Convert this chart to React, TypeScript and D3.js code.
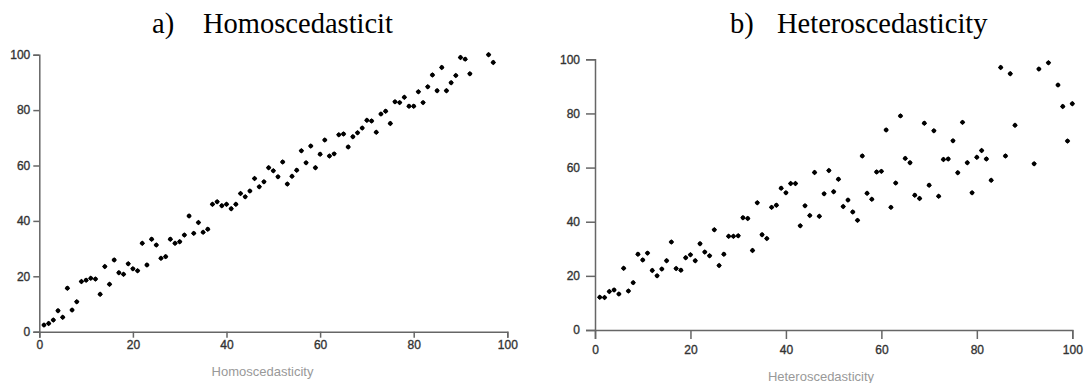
import React, { useEffect, useRef } from "react";
import * as d3 from "d3";

// Panel a: constant spread around the trend
const homX = [
  1, 2, 3, 4, 5, 6, 7, 8, 9, 10, 11, 12, 13, 14, 15, 16, 17, 18, 19, 20,
  21, 22, 23, 24, 25, 26, 27, 28, 29, 30, 31, 32, 33, 34, 35, 36, 37, 38, 39, 40,
  41, 42, 43, 44, 45, 46, 47, 48, 49, 50, 51, 52, 53, 54, 55, 56, 57, 58, 59, 60,
  61, 62, 63, 64, 65, 66, 67, 68, 69, 70, 71, 72, 73, 74, 75, 76, 77, 78, 79, 80,
  81, 82, 83, 84, 85, 86, 87, 88, 89, 90, 91, 92, 96, 97,
];
const homY = [
  2.4, 3.0, 4.2, 7.6, 5.2, 15.7, 7.8, 10.8, 18.1, 18.6, 19.3, 19.0, 13.5, 23.5, 17.1, 25.9, 21.3, 20.7, 24.5, 22.7,
  22.0, 31.9, 24.1, 33.4, 31.3, 26.5, 27.1, 33.4, 31.9, 32.5, 34.9, 41.8, 35.5, 39.4, 35.9, 37.0, 46.0, 46.9, 45.5, 46.0,
  44.4, 46.0, 49.9, 48.7, 50.8, 55.3, 52.3, 54.1, 59.2, 58.1, 55.9, 61.3, 53.3, 56.1, 58.3, 65.3, 61.0, 67.0, 59.2, 64.1,
  69.2, 63.4, 64.2, 71.1, 71.4, 66.7, 70.4, 71.8, 73.5, 76.3, 76.1, 72.0, 78.6, 79.6, 75.2, 83.0, 82.7, 84.6, 81.4, 81.4,
  86.6, 82.7, 88.4, 92.7, 87.0, 95.4, 87.0, 89.9, 92.5, 99.0, 98.4, 93.1, 100.0, 97.2,
];

// Panel b: spread widens as x grows
const hetX = [
  1, 2, 3, 4, 5, 6, 7, 8, 9, 10, 11, 12, 13, 14, 15, 16, 17, 18, 19, 20,
  21, 22, 23, 24, 25, 26, 27, 28, 29, 30, 31, 32, 33, 34, 35, 36, 37, 38, 39, 40,
  41, 42, 43, 44, 45, 46, 47, 48, 49, 50, 51, 52, 53, 54, 55, 56, 57, 58, 59, 60,
  61, 62, 63, 64, 65, 66, 67, 68, 69, 70, 71, 72, 73, 74, 75, 76, 77, 78, 79, 80,
  81, 82, 83, 85, 86, 87, 88, 92, 93, 95, 97, 98, 99, 100,
];
const hetY = [
  12.1, 12.0, 14.2, 14.8, 13.3, 22.8, 14.4, 17.5, 28.0, 25.9, 28.4, 22.0, 20.0, 22.5, 25.6, 32.5, 22.7, 22.1, 26.7, 27.8,
  25.6, 31.9, 28.8, 27.4, 37.0, 23.8, 28.0, 34.6, 34.6, 34.8, 41.5, 41.2, 29.4, 47.0, 35.2, 33.8, 45.3, 46.1, 52.4, 50.7,
  54.1, 54.1, 38.5, 45.9, 42.3, 58.2, 42.0, 50.3, 58.9, 51.1, 55.7, 45.6, 48.0, 43.6, 40.5, 64.3, 50.5, 48.3, 58.4, 58.6,
  73.9, 45.3, 54.3, 79.1, 63.4, 61.8, 49.8, 48.6, 76.4, 53.5, 73.6, 49.4, 63.0, 63.2, 69.9, 58.1, 76.7, 61.8, 50.7, 63.8,
  66.3, 63.2, 55.3, 97.0, 64.3, 94.7, 75.6, 61.4, 96.4, 98.7, 90.5, 82.6, 69.8, 83.6,
];

const ticks = [0, 20, 40, 60, 80, 100];

type Panel = {
  key: string;
  xs: number[];
  ys: number[];
  x0: number;
  x1: number;
  y0: number;
  y1: number;
  tickSize: number;
  tickPad: number;
  letter: string;
  letterX: number;
  title: string;
  titleX: number;
  axisLabel: string;
  axisLabelX: number;
  axisLabelY: number;
};

const panels: Panel[] = [
  {
    key: "a",
    xs: homX,
    ys: homY,
    x0: 39.3,
    x1: 507.3,
    y0: 331.7,
    y1: 54.7,
    tickSize: 6,
    tickPad: 3,
    letter: "a)",
    letterX: 152,
    title: "Homoscedasticit",
    titleX: 203,
    axisLabel: "Homoscedasticity",
    axisLabelX: 262.5,
    axisLabelY: 376,
  },
  {
    key: "b",
    xs: hetX,
    ys: hetY,
    x0: 595,
    x1: 1072.3,
    y0: 330,
    y1: 59.3,
    tickSize: 9,
    tickPad: 6,
    letter: "b)",
    letterX: 730,
    title: "Heteroscedasticity",
    titleX: 777,
    axisLabel: "Heteroscedasticity",
    axisLabelX: 821,
    axisLabelY: 381,
  },
];

// Small filled marker: a rotated square with a rounded core
const diamond = d3.symbol().type(d3.symbolSquare).size(15)() as string;

function ScatterPanel({ p }: { p: Panel }) {
  const xRef = useRef<SVGGElement>(null);
  const yRef = useRef<SVGGElement>(null);
  const x = d3.scaleLinear().domain([0, 100]).range([p.x0, p.x1]);
  const y = d3.scaleLinear().domain([0, 100]).range([p.y0, p.y1]);

  useEffect(() => {
    const style = (g: d3.Selection<SVGGElement, unknown, null, undefined>) => {
      g.selectAll(".domain").attr("stroke", "#666").attr("stroke-width", 1.5);
      g.selectAll(".tick line").attr("stroke", "#666").attr("stroke-width", 1.5);
      g.selectAll(".tick text")
        .attr("fill", "#333")
        .attr("stroke", "#333")
        .attr("stroke-width", 0.35)
        .style("font-family", "'Liberation Sans', Arial, sans-serif")
        .style("font-size", "12px");
    };
    if (xRef.current) {
      const g = d3.select(xRef.current);
      g.call(
        d3.axisBottom(x).tickValues(ticks).tickSize(p.tickSize).tickPadding(p.tickPad)
      );
      style(g);
    }
    if (yRef.current) {
      const g = d3.select(yRef.current);
      g.call(
        d3.axisLeft(y).tickValues(ticks).tickSize(p.tickSize).tickPadding(p.tickPad)
      );
      style(g);
    }
  });

  return (
    <g>
      <text
        x={p.letterX}
        y={33}
        fontFamily="'Liberation Serif', 'Times New Roman', serif"
        fontSize={28.5}
        fill="#000"
      >
        {p.letter}
      </text>
      <text
        x={p.titleX}
        y={33}
        fontFamily="'Liberation Serif', 'Times New Roman', serif"
        fontSize={28.5}
        fill="#000"
      >
        {p.title}
      </text>
      <g ref={xRef} transform={`translate(0,${p.y0})`} />
      <g ref={yRef} transform={`translate(${p.x0},0)`} />
      {p.xs.map((v, i) => (
        <g key={i} transform={`translate(${x(v)},${y(p.ys[i])})`}>
          <path d={diamond} transform="rotate(45)" fill="#000" />
          <circle r={2.1} fill="#000" />
        </g>
      ))}
      <text
        x={p.axisLabelX}
        y={p.axisLabelY}
        textAnchor="middle"
        fontFamily="'Liberation Sans', Arial, sans-serif"
        fontSize={13}
        fill="#999"
      >
        {p.axisLabel}
      </text>
    </g>
  );
}

export default function App() {
  return (
    <svg
      width={1085}
      height={383}
      style={{ position: "absolute", left: 0, top: 0, background: "#fff" }}
    >
      <rect width={1085} height={383} fill="#fff" />
      {panels.map((p) => (
        <ScatterPanel key={p.key} p={p} />
      ))}
    </svg>
  );
}
